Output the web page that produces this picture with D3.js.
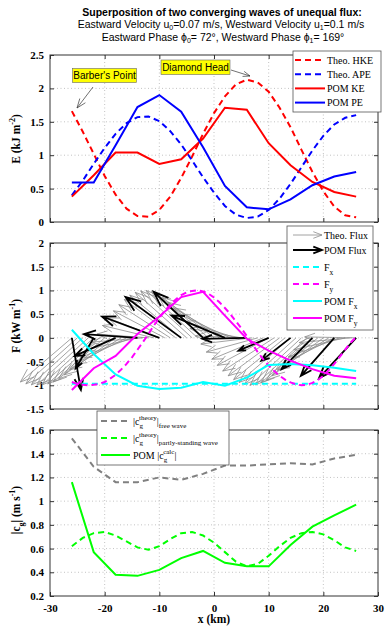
<!DOCTYPE html>
<html>
<head>
<meta charset="utf-8">
<script src="https://cdn.jsdelivr.net/npm/d3@7"></script>
<style>
  body { margin: 0; background: #fff; }
  svg { display: block; }
</style>
</head>
<body>
<div id="chart"></div>
<script>
// x positions (km)
const xPom = [-26, -22, -18, -14, -10, -6, -2, 2, 6, 10, 14, 18, 22, 26];
const xTheo = [-26, -24, -22, -20, -18, -16, -14, -12, -10, -8, -6, -4, -2, 0,
  2, 4, 6, 8, 10, 12, 14, 16, 18, 20, 22, 24, 26];
const xFlux = [-26, -25, -24, -23, -22, -21, -20, -19, -18, -17, -16, -15, -14, -13,
  -12, -11, -10, -9, -8, -7, -6, -5, -4, -3, -2, -1, 0, 1, 2, 3, 4, 5, 6, 7, 8, 9,
  10, 11, 12, 13, 14, 15, 16, 17, 18, 19, 20, 21, 22, 23, 24, 25, 26];

// panel 1: energy (kJ m^-2)
const theoHKE = [1.66, 1.35, 1.02, 0.69, 0.41, 0.20, 0.09, 0.08, 0.18, 0.38, 0.66, 0.98, 1.32, 1.63,
  1.88, 2.06, 2.13, 2.09, 1.95, 1.71, 1.42, 1.08, 0.75, 0.46, 0.23, 0.10, 0.07];
const theoAPE = [0.40, 0.62, 0.87, 1.11, 1.32, 1.48, 1.57, 1.58, 1.51, 1.36, 1.16, 0.92, 0.67, 0.44,
  0.24, 0.11, 0.06, 0.08, 0.18, 0.35, 0.57, 0.82, 1.07, 1.29, 1.46, 1.56, 1.60];
const pomKE = [0.38, 0.70, 1.04, 1.04, 0.87, 0.94, 1.25, 1.71, 1.68, 1.18, 0.85, 0.60, 0.45, 0.38];
const pomPE = [0.59, 0.59, 1.15, 1.72, 1.90, 1.65, 1.12, 0.54, 0.22, 0.19, 0.34, 0.55, 0.68, 0.75];

// panel 2: energy flux (kW m^-1)
const theoFx = -0.97;
const theoFy = [-0.93, -0.97, -0.99, -1.00, -0.99, -0.97, -0.93, -0.86, -0.78, -0.67, -0.55, -0.41,
  -0.25, -0.09, 0.08, 0.26, 0.42, 0.57, 0.70, 0.81, 0.90, 0.96, 0.99, 1.00, 0.98, 0.93, 0.85,
  0.75, 0.63, 0.50, 0.35, 0.20, 0.04, -0.13, -0.30, -0.45, -0.58, -0.70, -0.80, -0.88, -0.94,
  -0.98, -1.00, -0.99, -0.95, -0.89, -0.80, -0.68, -0.55, -0.40, -0.25, -0.10, 0.02];
const pomFx = [0.17, -0.34, -0.77, -1.01, -1.08, -1.05, -0.93, -1.01, -0.84, -0.57, -0.55, -0.58, -0.63, -0.70];
const pomFy = [-1.10, -0.64, -0.38, 0.08, 0.45, 0.86, 0.97, 0.47, -0.02, -0.27, -0.48, -0.66, -0.80, -0.85];

// panel 3: group speed (m s^-1)
const cgFree = [1.53, 1.29, 1.16, 1.16, 1.20, 1.18, 1.23, 1.30, 1.30, 1.31, 1.32, 1.31, 1.36, 1.39];
const cgStanding = [0.62, 0.69, 0.73, 0.74, 0.71, 0.66, 0.61, 0.59, 0.62, 0.68, 0.73, 0.74, 0.71, 0.65,
  0.57, 0.49, 0.45, 0.47, 0.54, 0.62, 0.69, 0.73, 0.74, 0.72, 0.67, 0.61, 0.58];
const cgPom = [1.16, 0.57, 0.38, 0.37, 0.42, 0.52, 0.58, 0.48, 0.45, 0.45, 0.63, 0.785, 0.88, 0.97];

const xTicks = [-30, -20, -10, 0, 10, 20, 30];
const eTicks = [0, 0.5, 1, 1.5, 2, 2.5];
const fTicks = [-1.5, -1, -0.5, 0, 0.5, 1, 1.5, 2];
const cTicks = [0.2, 0.4, 0.6, 0.8, 1, 1.2, 1.4, 1.6];

const arrowKm = 9.7; // quiver length in km per kW m^-1 (x direction)

const W = 390, H = 627;
const serif = "'Liberation Serif', 'Times New Roman', serif";
const sans = "'Liberation Sans', Arial, sans-serif";
const plain = d => String(d);

const svg = d3.select("#chart").append("svg")
  .attr("width", W).attr("height", H);

const x = d3.scaleLinear().domain([-30, 30]).range([50, 378]);

// Title
const title = svg.append("g").attr("font-family", sans).attr("text-anchor", "middle").attr("fill", "#000");
title.append("text").attr("x", 222).attr("y", 16).attr("font-size", 10.5).attr("font-weight", "bold")
  .text("Superposition of two converging  waves of unequal flux:");
const t2 = title.append("text").attr("x", 221).attr("y", 28).attr("font-size", 10.5);
t2.append("tspan").text("Eastward Velocity u");
t2.append("tspan").attr("font-size", 7).attr("dy", 2).text("0");
t2.append("tspan").attr("dy", -2).text("=0.07 m/s, Westward Velocity u");
t2.append("tspan").attr("font-size", 7).attr("dy", 2).text("1");
t2.append("tspan").attr("dy", -2).text("=0.1 m/s");
const t3 = title.append("text").attr("x", 223).attr("y", 41).attr("font-size", 10.5);
t3.append("tspan").text("Eastward Phase \u03d5");
t3.append("tspan").attr("font-size", 7).attr("dy", 2).text("0");
t3.append("tspan").attr("dy", -2).text("= 72\u00b0, Westward Phase \u03d5");
t3.append("tspan").attr("font-size", 7).attr("dy", 2).text("1");
t3.append("tspan").attr("dy", -2).text("= 169\u00b0");

// Draw one axes box with grid and inside ticks
function makePanel(top, bottom, domain, ticks, showX) {
  const y = d3.scaleLinear().domain(domain).range([bottom, top]);
  const g = svg.append("g");
  const grid = g.append("g").attr("stroke", "#b4b4b4").attr("stroke-width", 0.8)
    .attr("stroke-dasharray", "1,2.5");
  xTicks.slice(1, -1).forEach(t => {
    grid.append("line").attr("x1", x(t)).attr("x2", x(t)).attr("y1", top).attr("y2", bottom);
  });
  ticks.slice(1, -1).forEach(t => {
    grid.append("line").attr("x1", 50).attr("x2", 378).attr("y1", y(t)).attr("y2", y(t));
  });

  // left axis labels and inner ticks
  const yl = g.append("g").attr("transform", "translate(50,0)")
    .call(d3.axisLeft(y).tickValues(ticks).tickSizeInner(-4).tickSizeOuter(0).tickPadding(6)
      .tickFormat(plain));
  const yr = g.append("g").attr("transform", "translate(378,0)")
    .call(d3.axisRight(y).tickValues(ticks).tickSizeInner(-4).tickSizeOuter(0).tickFormat(""));
  const xb = g.append("g").attr("transform", `translate(0,${bottom})`)
    .call(d3.axisBottom(x).tickValues(xTicks).tickSizeInner(-4).tickSizeOuter(0).tickPadding(8)
      .tickFormat(showX ? plain : ""));
  const xt = g.append("g").attr("transform", `translate(0,${top})`)
    .call(d3.axisTop(x).tickValues(xTicks).tickSizeInner(-4).tickSizeOuter(0).tickFormat(""));
  [yl, yr, xb, xt].forEach(a => {
    a.select(".domain").remove();
    a.selectAll("line").attr("stroke", "#333");
    a.selectAll("text").attr("font-family", serif).attr("font-weight", "bold")
      .attr("font-size", 11).attr("fill", "#000");
  });
  g.append("rect").attr("x", 50).attr("y", top).attr("width", 328).attr("height", bottom - top)
    .attr("fill", "none").attr("stroke", "#333").attr("stroke-width", 1);
  return { g, y };
}

function drawArrow(g, x0, y0, x1, y1, color, width, frac) {
  const dx = x1 - x0, dy = y1 - y0, L = Math.hypot(dx, dy);
  if (L < 0.5) return;
  const ux = dx / L, uy = dy / L;
  const h = frac * L, hw = h * 0.38;
  const bx = x1 - ux * h, by = y1 - uy * h;
  g.append("path")
    .attr("d", `M${x0},${y0}L${x1},${y1}M${bx - uy * hw},${by + ux * hw}L${x1},${y1}L${bx + uy * hw},${by - ux * hw}`)
    .attr("fill", "none").attr("stroke", color).attr("stroke-width", width)
    .attr("stroke-linejoin", "miter");
}

function series(g, y, xs, ys, color, dashed, width) {
  const line = d3.line().x((d, i) => x(xs[i])).y(d => y(d));
  g.append("path").datum(ys).attr("d", line)
    .attr("fill", "none").attr("stroke", color).attr("stroke-width", width || 2)
    .attr("stroke-dasharray", dashed ? "6,4" : null);
}

function yLabel(cx, cy, parts) {
  const t = svg.append("text").attr("transform", `translate(${cx},${cy}) rotate(-90)`)
    .attr("text-anchor", "middle").attr("font-family", serif).attr("font-weight", "bold")
    .attr("font-size", 11.5);
  parts.forEach(p => {
    const s = t.append("tspan").text(p.t);
    if (p.dy) s.attr("dy", p.dy);
    if (p.fs) s.attr("font-size", p.fs);
  });
}

// ---------- Panel 1: energy ----------
const p1 = makePanel(55, 222, [0, 2.5], eTicks, false);
series(p1.g, p1.y, xTheo, theoHKE, "#ff0000", true);
series(p1.g, p1.y, xTheo, theoAPE, "#0000ff", true);
series(p1.g, p1.y, xPom, pomKE, "#ff0000", false);
series(p1.g, p1.y, xPom, pomPE, "#0000ff", false);
yLabel(20, 139, [{ t: "E (kJ m" }, { t: "-2", dy: -5, fs: 8 }, { t: ")", dy: 5 }]);

// annotations
function callout(bx, by, bw, bh, label, ax0, ay0, ax1, ay1) {
  drawArrow(svg, ax0, ay0, ax1, ay1, "#333", 0.7, 0.35);
  svg.append("rect").attr("x", bx).attr("y", by).attr("width", bw).attr("height", bh)
    .attr("fill", "#ffff00").attr("stroke", "#666").attr("stroke-width", 0.6);
  svg.append("text").attr("x", bx + bw / 2).attr("y", by + bh / 2 + 3.5).attr("text-anchor", "middle")
    .attr("font-family", sans).attr("font-size", 10).text(label);
}
callout(72.5, 68.5, 64, 14, "Barber's Point", 93, 87, 77, 108);
callout(161, 60, 69, 14.5, "Diamond Head", 231, 70, 250, 76);

// legend 1
const lg1 = svg.append("g");
lg1.append("rect").attr("x", 293).attr("y", 51).attr("width", 88).attr("height", 61)
  .attr("fill", "#fff").attr("stroke", "#555").attr("stroke-width", 0.8);
[["Theo. HKE", "#ff0000", true], ["Theo. APE", "#0000ff", true],
 ["POM KE", "#ff0000", false], ["POM PE", "#0000ff", false]].forEach((d, i) => {
  const yy = 60 + i * 14.2;
  lg1.append("line").attr("x1", 295).attr("x2", 325).attr("y1", yy).attr("y2", yy)
    .attr("stroke", d[1]).attr("stroke-width", 2).attr("stroke-dasharray", d[2] ? "6,4" : null);
  lg1.append("text").attr("x", 327).attr("y", yy + 3.5).attr("font-family", serif)
    .attr("font-size", 10).text(d[0]);
});

// ---------- Panel 2: flux ----------
const p2 = makePanel(243, 409, [-1.5, 2], fTicks, false);
const y2 = p2.y;
const arrows = p2.g.append("g");
xFlux.forEach((xv, i) => {
  drawArrow(arrows, x(xv), y2(0), x(xv + arrowKm * theoFx), y2(theoFy[i]), "#8c8c8c", 0.8, 0.2);
});
xPom.forEach((xv, i) => {
  drawArrow(arrows, x(xv), y2(0), x(xv + arrowKm * pomFx[i]), y2(pomFy[i]), "#000", 1.8, 0.22);
});
p2.g.append("line").attr("x1", x(xFlux[0])).attr("x2", x(xFlux[xFlux.length - 1]))
  .attr("y1", y2(theoFx)).attr("y2", y2(theoFx))
  .attr("stroke", "#00ffff").attr("stroke-width", 2).attr("stroke-dasharray", "6,4");
series(p2.g, y2, xFlux, theoFy, "#ff00ff", true);
series(p2.g, y2, xPom, pomFx, "#00ffff", false);
series(p2.g, y2, xPom, pomFy, "#ff00ff", false);
yLabel(20, 326, [{ t: "F (kW m" }, { t: "-1", dy: -5, fs: 8 }, { t: ")", dy: 5 }]);

// legend 2
const lg2 = svg.append("g");
lg2.append("rect").attr("x", 287).attr("y", 226).attr("width", 86).attr("height", 104)
  .attr("fill", "#fff").attr("stroke", "#555").attr("stroke-width", 0.8);
const l2rows = [235, 250, 267, 284, 301, 318];
drawArrow(lg2, 293, l2rows[0], 322, l2rows[0], "#8c8c8c", 0.8, 0.3);
drawArrow(lg2, 293, l2rows[1], 322, l2rows[1], "#000", 1.8, 0.3);
[["#00ffff", true], ["#ff00ff", true], ["#00ffff", false], ["#ff00ff", false]].forEach((d, i) => {
  const yy = l2rows[i + 2];
  lg2.append("line").attr("x1", 293).attr("x2", 322).attr("y1", yy).attr("y2", yy)
    .attr("stroke", d[0]).attr("stroke-width", 2).attr("stroke-dasharray", d[1] ? "6,4" : null);
});
const l2text = [[["Theo. Flux"]], [["POM Flux"]], [["F"], ["x", 1]], [["F"], ["y", 1]],
  [["POM F"], ["x", 1]], [["POM F"], ["y", 1]]];
l2text.forEach((parts, i) => {
  const t = lg2.append("text").attr("x", 324).attr("y", l2rows[i] + 3.5)
    .attr("font-family", serif).attr("font-size", 10);
  parts.forEach(p => {
    const s = t.append("tspan").text(p[0]);
    if (p[1]) s.attr("dy", 4).attr("font-size", 7.5);
  });
});

// ---------- Panel 3: group speed ----------
const p3 = makePanel(430, 596, [0.2, 1.6], cTicks, true);
series(p3.g, p3.y, xPom, cgFree, "#808080", true);
series(p3.g, p3.y, xTheo, cgStanding, "#00ff00", true);
series(p3.g, p3.y, xPom, cgPom, "#00ff00", false);
yLabel(20, 510, [{ t: "|c" }, { t: "g", dy: 4, fs: 8 }, { t: "| (m s", dy: -4 }, { t: "-1", dy: -5, fs: 8 }, { t: ")", dy: 5 }]);

svg.append("text").attr("x", 214).attr("y", 623).attr("text-anchor", "middle")
  .attr("font-family", serif).attr("font-weight", "bold").attr("font-size", 11.5).text("x (km)");

// legend 3
const lg3 = svg.append("g");
lg3.append("rect").attr("x", 97).attr("y", 411).attr("width", 132).attr("height", 54)
  .attr("fill", "#fff").attr("stroke", "#555").attr("stroke-width", 0.8);
const l3rows = [421, 438, 455];
[["#808080", true], ["#00ff00", true], ["#00ff00", false]].forEach((d, i) => {
  lg3.append("line").attr("x1", 101).attr("x2", 130).attr("y1", l3rows[i]).attr("y2", l3rows[i])
    .attr("stroke", d[0]).attr("stroke-width", 2).attr("stroke-dasharray", d[1] ? "6,4" : null);
});
function cgText(yy, sup, sub, pom) {
  const t = lg3.append("text").attr("x", 133).attr("y", yy + 3.5)
    .attr("font-family", serif).attr("font-size", 10);
  t.append("tspan").text((pom ? "POM " : "") + "|c");
  t.append("tspan").attr("font-size", 7).attr("dy", 3).text("g");
  t.append("tspan").attr("font-size", 7).attr("dx", -4).attr("dy", -8).text(sup);
  t.append("tspan").attr("dy", 5).text("|");
  if (sub) t.append("tspan").attr("font-size", 7).attr("dy", 3).text(sub);
}
cgText(l3rows[0], "theory", "free wave", false);
cgText(l3rows[1], "theory", "partly-standing wave", false);
cgText(l3rows[2], "calc", null, true);
</script>
</body>
</html>
